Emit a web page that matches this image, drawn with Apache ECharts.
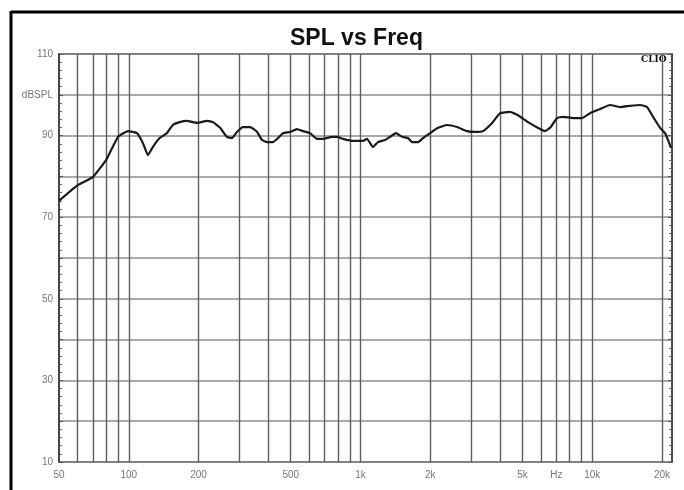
<!DOCTYPE html>
<html><head><meta charset="utf-8">
<script src="https://cdn.jsdelivr.net/npm/echarts@6/dist/echarts.min.js"></script>
<style>html,body{margin:0;padding:0;background:#fff}#c{width:684px;height:490px}</style>
</head><body><div id="c"></div>
<script>
// Frequency (Hz) and SPL (dB)
const freqs = [50,60.4,70.1,79.8,89.9,99.3,108.6,115,121,127,136,146,155,166,178,197,218,231,248,265,279,293,311,334,358,376,395,419,441,463,497,532,565,606,649,689,754,792,841,928,1026,1067,1133,1190,1276,1341,1424,1512,1604,1669,1772,1862,1997,2161,2363,2610,2884,3122,3381,3697,4003,4422,4786,5286,5957,6258,6578,7053,7487,8268,9045,9790,10814,11943,13191,14570,16090,17250,18310,19630,20630,21250,21890];
const spl = [74.0,77.9,79.9,84.0,89.7,91.1,90.6,88.2,85.2,87.2,89.4,90.6,92.6,93.3,93.6,93.1,93.6,93.3,91.9,89.7,89.4,90.9,92.1,92.1,90.9,88.9,88.4,88.4,89.4,90.6,90.9,91.6,91.1,90.6,89.2,89.2,89.7,89.7,89.2,88.7,88.7,89.2,87.2,88.4,88.9,89.7,90.6,89.7,89.4,88.4,88.4,89.4,90.6,91.9,92.6,92.1,91.1,90.9,91.1,93.1,95.5,95.8,95.0,93.3,91.6,91.1,91.9,94.3,94.6,94.3,94.3,95.5,96.5,97.5,97.0,97.3,97.5,97.0,94.6,91.9,90.6,88.9,87.0];
// Vertical grid lines and labelled ticks
const gridFreqs = [60,70,80,90,100,200,300,400,500,600,700,800,900,1000,2000,3000,4000,5000,6000,7000,8000,9000,10000,20000];
const labelFreqs = [50,100,200,500,1000,2000,5000,7000,10000,20000];
const labelTexts = ['50','100','200','500','1k','2k','5k','Hz','10k','20k'];
const yMin = 10, yMax = 110, yStep = 10;
const freqMin = 50, freqMax = 22100;

const chart = echarts.init(document.getElementById('c'));
const lblMap = {};
labelFreqs.forEach((f,i)=>lblMap[f]=labelTexts[i]);
const allLines = Array.from(new Set([50].concat(gridFreqs)));
const mlData = allLines.map(f => ({
  xAxis: f,
  lineStyle: {color: f===50 ? '#444' : '#5e5e5e', width: f===50 ? 1.5 : 1.4, type:'solid'},
  label: {show: lblMap[f] !== undefined, formatter: lblMap[f] || '', position: 'start', distance: 8,
          color:'#777', fontSize: 10, fontFamily:'Liberation Sans'}
}));

chart.setOption({
  animation: false,
  backgroundColor: '#fff',
  title: {text: 'SPL vs Freq', left: 285, top: 22,
          textStyle: {fontFamily:'Liberation Sans', fontWeight:'bold', fontSize: 23, color:'#111'}},
  grid: {left: 59, right: 12, top: 54, bottom: 28, show: true, borderColor: '#333', borderWidth: 1.5},
  xAxis: {type:'log', logBase: 10, min: freqMin, max: freqMax,
          axisLine:{show:false}, axisTick:{show:false}, axisLabel:{show:false}, splitLine:{show:false}},
  yAxis: [
    {type:'value', min:yMin, max:yMax, interval:yStep,
     axisLine:{show:true, lineStyle:{color:'#444', width:1.5}},
     axisTick:{show:true, inside:true, length:4, lineStyle:{color:'#555'}},
     minorTick:{show:true, splitNumber:5, length:3, lineStyle:{color:'#666'}},
     splitLine:{show:true, lineStyle:{color:'#8e8e8e', width:1.6}},
     axisLabel:{color:'#777', fontSize:10, fontFamily:'Liberation Sans', margin:6,
       formatter: v => v===100 ? 'dBSPL' : ((v-10)%20===0 ? String(v) : '')}},
    {type:'value', min:yMin, max:yMax, interval:yStep, position:'right',
     axisLine:{show:true, lineStyle:{color:'#444', width:1.5}},
     axisTick:{show:true, inside:true, length:4, lineStyle:{color:'#555'}},
     minorTick:{show:true, splitNumber:5, length:3, lineStyle:{color:'#666'}},
     splitLine:{show:false}, axisLabel:{show:false}}
  ],
  graphic: [
    {type:'line', shape:{x1:11, y1:12, x2:684, y2:12}, style:{stroke:'#000', lineWidth:3}},
    {type:'line', shape:{x1:11, y1:11, x2:11, y2:490}, style:{stroke:'#000', lineWidth:3}},
    {type:'text', left: 641, top: 55, style:{text:'CLIO', font:'bold 9px "DejaVu Serif"', fill:'#111'}}
  ],
  series: [{
    type:'line', data: freqs.map((f,i)=>[f, spl[i]]), showSymbol:false, smooth:0.12,
    lineStyle:{color:'#1a1a1a', width:2.2}, z: 5,
    markLine: {silent:true, symbol:['none','none'], data: mlData, z: 1, animation:false}
  }]
});
</script></body></html>
